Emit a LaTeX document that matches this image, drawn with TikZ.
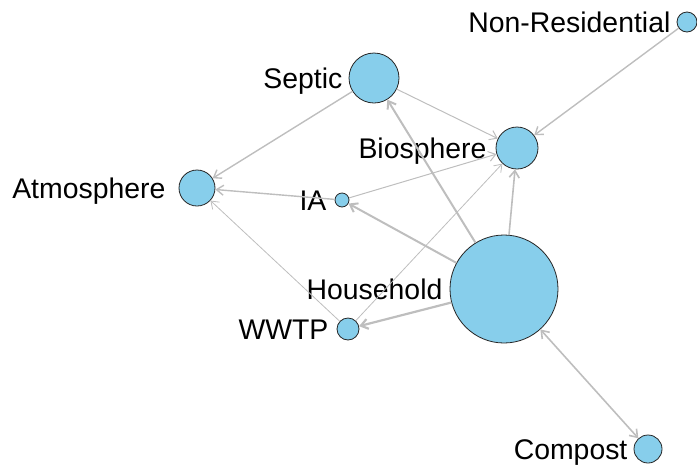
\documentclass[tikz,border=0pt]{standalone}
\usepackage{fontspec}
\setmainfont{Liberation Sans}
\usetikzlibrary{arrows.meta}
\definecolor{skyblue}{HTML}{87CEEB}
\definecolor{edgegray}{HTML}{BEBEBE}

\tikzset{
  vertex/.style={circle, draw=black!85, line width=0.8pt, fill=skyblue, inner sep=0pt, minimum size=#1},
  vlabel/.style={inner sep=0pt, text height=20.3pt, text depth=0pt, font=\fontsize{28.4}{30}\selectfont},
  flow/.style={draw=edgegray, line width=#1},
  flow/.default=1pt,
  >={Straight Barb[length=7pt,width=10pt]},
}

\begin{document}
\begin{tikzpicture}[x=1pt,y=-1pt]
  \useasboundingbox (0,0) rectangle (697,467);
  %% Vertices: name / x / y / diameter / label gap
  \foreach \name/\x/\y/\d/\gap in {Household/504/289/108/7,Septic/374/78/50/6,Biosphere/517/148/42/9,
      IA/342/200/14/8,WWTP/348/329/22/8,Atmosphere/197/188/36/13,Non-Residential/687/22/20/6,Compost/648/449/28/6}{%
    \node[vertex=\d pt, label={[vlabel, label distance=\gap pt]left:\name}] (\name) at (\x,\y) {};
  }
  %% Edges
  \draw[flow=2pt,->] (Household) -- (Septic);
  \draw[flow=2pt,->] (Household) -- (IA);
  \draw[flow=2.2pt,->] (Household) -- (WWTP);
  \draw[flow=1.6pt,->] (Household) -- (Biosphere);
  \draw[flow=1.6pt,<->] (Household) -- (Compost);
  \draw[flow=1.4pt,->] (Septic) -- (Atmosphere);
  \draw[flow=1pt,->] (Septic) -- (Biosphere);
  \draw[flow=1.4pt,->] (IA) -- (Atmosphere);
  \draw[flow=1pt,->] (IA) -- (Biosphere);
  \draw[flow=0.8pt,->] (WWTP) -- (Biosphere);
  \draw[flow=0.8pt,->] (WWTP) -- (Atmosphere);
  \draw[flow=1.4pt,->] (Non-Residential) -- (Biosphere);
\end{tikzpicture}
\end{document}
